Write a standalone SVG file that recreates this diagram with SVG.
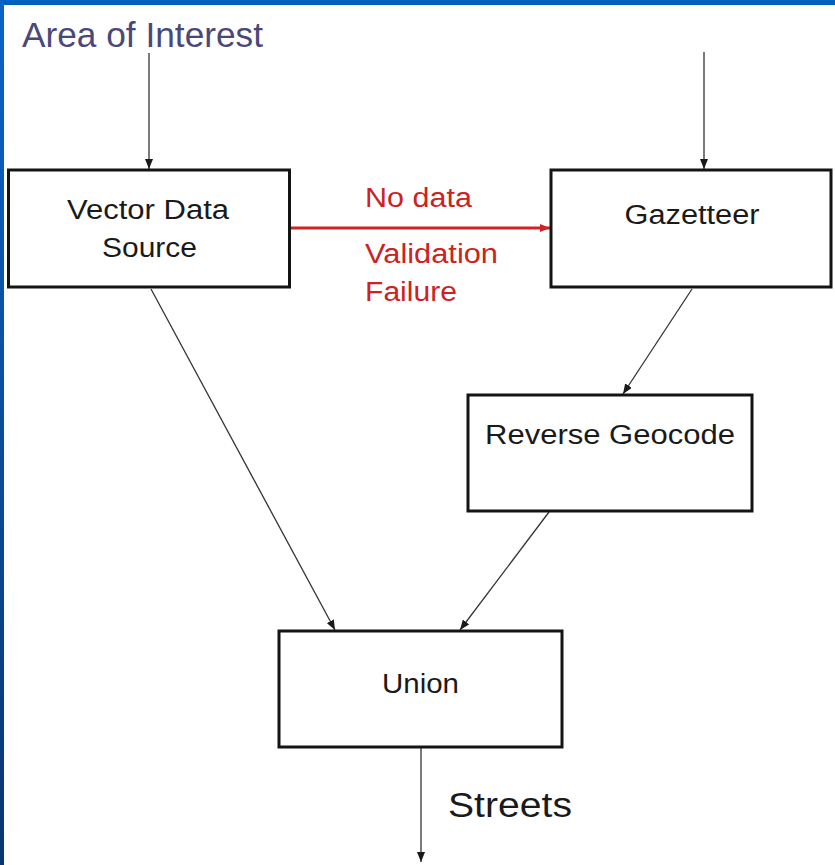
<svg xmlns="http://www.w3.org/2000/svg" width="835" height="865" viewBox="0 0 835 865">
  <defs>
    <linearGradient id="edge" x1="0" y1="0" x2="0" y2="1">
      <stop offset="0" stop-color="#0a64c6"/>
      <stop offset="1" stop-color="#0a3572"/>
    </linearGradient>
    <marker id="arr" viewBox="0 0 10 8" refX="10" refY="4" markerWidth="10" markerHeight="8" markerUnits="userSpaceOnUse" orient="auto">
      <path d="M0,0 L10,4 L0,8 z" fill="#1a1a1a"/>
    </marker>
    <marker id="arr-red" viewBox="0 0 10 8" refX="10" refY="4" markerWidth="10" markerHeight="8" markerUnits="userSpaceOnUse" orient="auto">
      <path d="M0,0 L10,4 L0,8 z" fill="#d02424"/>
    </marker>
  </defs>
  <style>
    .box { fill: #ffffff; stroke: #141414; stroke-width: 3; }
    .lbl { font-family: "Liberation Sans", Arial, sans-serif; font-size: 27px; fill: #1a1a1a; text-anchor: middle; }
    .red { font-family: "Liberation Sans", Arial, sans-serif; font-size: 27px; fill: #cc2222; }
    .big { font-family: "Liberation Sans", Arial, sans-serif; font-size: 35px; }
    .link { fill: none; stroke: #333333; stroke-width: 1.3; marker-end: url(#arr); }
    .link-red { fill: none; stroke: #d02424; stroke-width: 3; marker-end: url(#arr-red); }
  </style>

  <!-- page background and slide frame -->
  <rect x="0" y="0" width="835" height="865" fill="#ffffff"/>
  <rect x="0" y="0" width="835" height="5" fill="#0060c0"/>
  <rect x="0" y="0" width="4" height="865" fill="url(#edge)"/>

  <!-- connectors -->
  <g id="connectors">
    <line class="link" x1="149" y1="53" x2="149" y2="169"/>
    <line class="link" x1="704" y1="52" x2="704" y2="169"/>
    <line class="link-red" x1="291" y1="228" x2="550" y2="228"/>
    <line class="link" x1="151" y1="289" x2="335" y2="630"/>
    <line class="link" x1="692" y1="289" x2="623" y2="394"/>
    <line class="link" x1="549" y1="512" x2="460" y2="630"/>
    <line class="link" x1="421" y1="748" x2="421" y2="862"/>
  </g>

  <!-- free labels -->
  <text id="area-of-interest" class="big" x="22" y="47" fill="#4a4878" textLength="241" lengthAdjust="spacingAndGlyphs">Area of Interest</text>
  <g id="fallback-label">
    <text class="red" x="365" y="207" textLength="107" lengthAdjust="spacingAndGlyphs">No data</text>
    <text class="red" x="365" y="263" textLength="133" lengthAdjust="spacingAndGlyphs">Validation</text>
    <text class="red" x="365" y="301" textLength="92" lengthAdjust="spacingAndGlyphs">Failure</text>
  </g>
  <text id="streets" class="big" x="448" y="817" fill="#1a1a1a" textLength="124" lengthAdjust="spacingAndGlyphs">Streets</text>

  <!-- nodes -->
  <g id="vector-data-source">
    <rect class="box" x="8.5" y="170" width="281" height="117"/>
    <text class="lbl" x="148" y="219" textLength="162" lengthAdjust="spacingAndGlyphs">Vector Data</text>
    <text class="lbl" x="149.5" y="257" textLength="95" lengthAdjust="spacingAndGlyphs">Source</text>
  </g>
  <g id="gazetteer">
    <rect class="box" x="551" y="170" width="280" height="117"/>
    <text class="lbl" x="692" y="224" textLength="135" lengthAdjust="spacingAndGlyphs">Gazetteer</text>
  </g>
  <g id="reverse-geocode">
    <rect class="box" x="468" y="395" width="284" height="116"/>
    <text class="lbl" x="610" y="444" textLength="250" lengthAdjust="spacingAndGlyphs">Reverse Geocode</text>
  </g>
  <g id="union">
    <rect class="box" x="279" y="631" width="283" height="116"/>
    <text class="lbl" x="420.5" y="693" textLength="77" lengthAdjust="spacingAndGlyphs">Union</text>
  </g>
</svg>
